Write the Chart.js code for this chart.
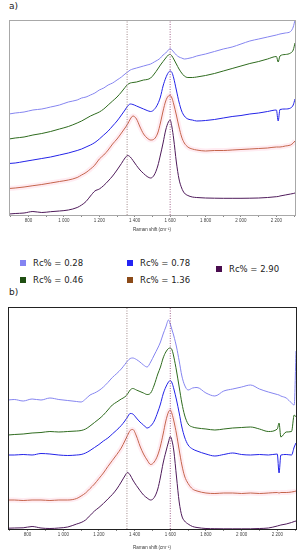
<!DOCTYPE html>
<html>
<head>
<meta charset="utf-8">
<script src="https://cdn.jsdelivr.net/npm/chart.js@4"></script>
<style>
  body { margin: 0; background: #fff; width: 305px; height: 550px; position: relative; overflow: hidden; font-family: "DejaVu Sans", Verdana, sans-serif; }
  canvas { position: absolute; left: 0; }
  #chartA { top: 0; }
  #chartB { top: 300px; }
  .panel-label { position: absolute; left: 9px; font-size: 9px; color: #222; }
  .legend-item { position: absolute; font-size: 8.5px; color: #222; line-height: 10px; white-space: nowrap; }
  .legend-item span { display: inline-block; width: 6px; height: 6px; margin-right: 7px; vertical-align: 0px; }
</style>
</head>
<body>
<div class="panel-label" style="top:1px">a)</div>
<canvas id="chartA" width="305" height="232"></canvas>
<div id="legend"></div>
<div class="panel-label" style="top:287px">b)</div>
<canvas id="chartB" width="305" height="250"></canvas>

<script>
// Raman shift positions (cm-1) where the spectra are read
const shifts = [690, 725, 775, 825, 875, 925, 975, 1025, 1075, 1100,
  1125, 1150, 1175, 1200, 1225, 1250, 1275, 1300, 1325, 1345,
  1360, 1375, 1390, 1410, 1430, 1450, 1470, 1490, 1510, 1530,
  1545, 1560, 1575, 1590, 1600, 1610, 1620, 1635, 1650, 1665,
  1680, 1700, 1725, 1750, 1800, 1850, 1900, 1950, 2000, 2050,
  2100, 2150, 2200, 2210, 2220, 2250, 2280, 2295, 2305];

// Panel a) - raw spectra (arbitrary intensity, stacked)
const aRc028 = [101, 102, 103, 105, 106, 108, 110, 113, 115, 117,
  118, 120, 122, 125, 127, 130, 132, 135, 138, 141,
  143, 145, 146, 147, 148, 149, 150, 151, 153, 155,
  157, 160, 162, 165, 166.5, 165, 163, 160, 158, 157,
  156, 156.5, 157.5, 159, 161, 163.5, 166, 168, 171, 174,
  176, 178, 180, 180.5, 181, 182, 183.5, 188, 195];
const aRc046 = [76, 77, 78, 80, 81.5, 83.5, 86, 88.5, 92, 94,
  96.5, 99, 101, 103, 106, 110, 114, 118, 123, 127.5,
  130.5, 132, 132.5, 133, 134, 135, 135.5, 137, 141, 146,
  150, 153.5, 157, 160, 160.7, 159, 156, 151, 146, 142,
  139, 137.5, 137.5, 138, 139.5, 141.5, 144, 146.5, 149, 151.5,
  153.5, 156, 158.5, 153, 159, 160.5, 162, 165, 172];
const aRc078 = [51.5, 52, 53.5, 55, 56.5, 58, 60, 62, 64.5, 66,
  68, 70, 72.5, 76, 80, 84, 89, 94, 100, 105,
  109, 111, 110.5, 109, 107.5, 106, 104.5, 103.5, 105.5, 111,
  118, 129, 137, 142.5, 144, 142.5, 137, 125, 113, 104,
  99, 96, 95, 94, 94.5, 95.5, 97, 98.5, 99.5, 101,
  102, 103.5, 105, 94, 105.5, 106, 107, 110, 116];
const aRc136 = [26.5, 27, 28, 29.3, 30.5, 32, 33.5, 35, 37.5, 40,
  42.5, 46, 50, 56, 60, 65, 71, 76, 82, 87,
  91, 96, 99, 96, 88, 81, 77, 75, 76, 82,
  92, 104, 114, 119, 119.5, 117, 111, 100, 88, 78,
  72, 68, 66, 65, 64, 64.5, 64.5, 65, 65.5, 66,
  66.5, 67, 68, 68, 68, 69, 70, 72, 74];
const aRc290 = [1, 1.5, 2, 3.5, 2.5, 3.3, 4, 5, 7.5, 10,
  13.5, 19, 24, 26, 29.5, 34, 39, 45, 51.5, 57,
  59.5, 58, 54.5, 49.5, 45, 41.5, 38.5, 37, 40, 49,
  60, 72, 85, 93, 95, 88, 76, 53, 36, 27,
  22, 19.5, 18, 17.5, 17, 16.8, 16.7, 16.7, 16.7, 16.8,
  17, 17.5, 18.3, 18.5, 19, 20, 21, 21.5, 22];

// Panel b) - baseline corrected spectra
const bRc028 = [129, 129.5, 128, 130, 129, 131, 129.5, 128.5, 127.5, 127,
  130, 134, 136, 138.5, 142, 146.5, 151.5, 155.5, 160, 164.5,
  168, 170.5, 171, 169.5, 167, 164, 162, 167, 174, 181,
  187, 195, 202, 209, 205, 199, 193, 182, 168, 153,
  144, 139, 141, 141.5, 136, 133, 138, 140, 142, 144,
  140, 137, 134.5, 134, 133, 131, 126, 124, 178];
const bRc046 = [94, 94.5, 95, 96, 96.5, 97.5, 97, 97.5, 98, 98.5,
  100, 103, 106.5, 110, 114, 119, 124, 127, 130, 132,
  135, 139, 140.5, 139, 137.5, 136, 134.5, 136, 144, 155,
  162, 171, 177, 180.5, 181, 179, 172, 158, 142, 126,
  114, 105, 102, 101, 100, 99, 100, 101, 101.5, 102,
  100, 97.5, 100, 106, 92, 97, 97.5, 114, 112];
const bRc078 = [74, 74, 74.5, 74, 75.5, 75, 74, 73.5, 74, 74.5,
  76, 78.5, 81.5, 84.5, 88, 91, 95, 99, 103.5, 108,
  112, 115.5, 115, 111, 107, 104, 101, 103, 108, 117,
  125, 135, 142, 147, 148.5, 146, 140, 129, 116, 102,
  92, 84, 80, 78, 75, 73, 74.5, 76, 74.5, 74,
  74.5, 74, 75, 56, 74, 74.5, 74, 82, 86];
const bRc136 = [29, 29, 28.5, 29, 29, 28.5, 29, 29, 30.5, 33,
  36, 40.5, 45, 50.5, 56, 62.5, 68.5, 74.5, 81, 88,
  93.5, 98.5, 99.5, 93, 83, 75, 69, 64.5, 67, 74,
  83, 95, 108, 117, 119, 115, 108, 95, 79, 64,
  53, 45.5, 40, 38, 36, 35.5, 36, 36, 35.5, 36,
  35.5, 36, 36.5, 36, 36.5, 36.5, 37, 37.5, 38];
const bRc290 = [0.8, 1, 1.2, 2.5, 1, 0.5, 1, 2, 5, 6.5,
  9, 13.5, 18, 21.5, 25.5, 30, 34.5, 40, 47, 53,
  56.5, 54, 49, 43.5, 38.5, 34, 31, 29, 31.5, 40,
  52, 66, 77, 87, 92.5, 88, 78, 52, 27, 13,
  8, 5, 2.5, 1.5, 0.5, 0.3, 0.2, 0.2, 0.2, 0.2,
  0.5, 1, 3, 3.5, 4, 5, 6.5, 7.5, 8];

const rcLabels = ['Rc% = 0.28', 'Rc% = 0.46', 'Rc% = 0.78', 'Rc% = 1.36', 'Rc% = 2.90'];
const rcColors = ['#8585f0', '#2e6b1e', '#2323e8', '#b4522a', '#4e1a5a'];
const legendColors = ['#8484f2', '#1f4f12', '#2424f4', '#8b4a18', '#4a0d4f'];

// D and G band positions (dotted lines)
const bandShifts = [1357, 1600];
const bandColors = ['#a08888', '#a0608a'];

const tickShifts = [700, 800, 900, 1000, 1100, 1200, 1300, 1400, 1500, 1600,
  1700, 1800, 1900, 2000, 2100, 2200, 2300];

// Cadre autour de la zone de tracé
const framePlugin = {
  id: 'frame',
  afterDraw(chart, args, opts) {
    const { ctx, chartArea: a } = chart;
    ctx.save();
    ctx.strokeStyle = opts.color;
    ctx.lineWidth = 1;
    ctx.strokeRect(Math.round(a.left) + 0.5, Math.round(a.top) + 0.5,
      Math.round(a.right - a.left), Math.round(a.bottom - a.top));
    ctx.restore();
  }
};

function fmtShift(v) {
  if (v % 200 !== 0) return '';
  if (v < 1000) return String(v);
  return Math.floor(v / 1000) + ' ' + String(v % 1000).padStart(3, '0');
}

function buildChart(id, series, yMax, frameColor, pad, scaleHeight) {
  const datasets = [];
  bandShifts.forEach((s, i) => {
    datasets.push({
      data: [{ x: s, y: 0 }, { x: s, y: yMax }],
      borderColor: bandColors[i],
      borderWidth: 1,
      borderDash: [1, 1.5],
      pointRadius: 0
    });
  });
  // halo rose sous la courbe Rc% = 1.36
  datasets.push({
    data: shifts.map((x, i) => ({ x: x, y: series[3][i] })),
    borderColor: 'rgba(255, 170, 195, 0.22)',
    borderWidth: 5,
    pointRadius: 0,
    cubicInterpolationMode: 'monotone'
  });
  series.forEach((vals, k) => {
    datasets.push({
      label: rcLabels[k],
      data: shifts.map((x, i) => ({ x: x, y: vals[i] })),
      borderColor: rcColors[k],
      borderWidth: 1,
      pointRadius: 0,
      cubicInterpolationMode: 'monotone'
    });
  });

  return new Chart(document.getElementById(id), {
    type: 'line',
    data: { datasets: datasets },
    plugins: [framePlugin],
    options: {
      responsive: false,
      animation: false,
      devicePixelRatio: 1,
      layout: { padding: pad },
      plugins: {
        legend: { display: false },
        tooltip: { enabled: false },
        frame: { color: frameColor }
      },
      scales: {
        x: {
          type: 'linear',
          min: 690,
          max: 2305,
          afterBuildTicks: (axis) => { axis.ticks = tickShifts.map(v => ({ value: v })); },
          afterFit: (axis) => { axis.height = scaleHeight; },
          grid: { drawOnChartArea: false, tickLength: 2, color: '#888' },
          border: { display: false },
          ticks: {
            autoSkip: false,
            maxRotation: 0,
            padding: 1,
            color: '#444',
            font: { family: 'Liberation Sans', size: 4.5 },
            callback: (v) => fmtShift(v)
          },
          title: {
            display: true,
            text: 'Raman shift (cm⁻¹)',
            color: '#333',
            padding: 0,
            font: { family: 'Liberation Sans', size: 4.5 }
          }
        },
        y: { display: false, min: 0, max: yMax }
      }
    }
  });
}

buildChart('chartA', [aRc028, aRc046, aRc078, aRc136, aRc290], 195, '#a8a8a8',
  { left: 9, right: 10, top: 20, bottom: 0 }, 17);
buildChart('chartB', [bRc028, bRc046, bRc078, bRc136, bRc290], 222, '#222',
  { left: 8, right: 9, top: 7, bottom: 0 }, 21);

// Légende HTML entre les deux panneaux
const legendPos = [[20, 258], [20, 275], [127, 258], [127, 275], [216, 264]];
const legend = document.getElementById('legend');
rcLabels.forEach((lab, k) => {
  const item = document.createElement('div');
  item.className = 'legend-item';
  item.style.left = legendPos[k][0] + 'px';
  item.style.top = legendPos[k][1] + 'px';
  item.innerHTML = '<span style="background:' + legendColors[k] + '"></span>' + lab;
  legend.appendChild(item);
});
</script>
</body>
</html>
